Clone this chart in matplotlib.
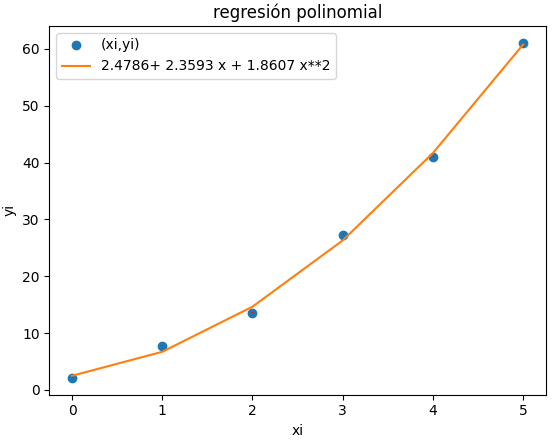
import numpy as np
import matplotlib
matplotlib.use("Agg")
import matplotlib.pyplot as plt

# ==== Datos ====
xi = [0, 1, 2, 3, 4, 5]
yi = [2.1, 7.7, 13.6, 27.2, 40.9, 61.1]

# valores del polinomio ajustado en cada xi
px = [2.4786, 6.6986, 14.6398, 26.3024, 41.6864, 60.7918]
etiqueta = '2.4786+ 2.3593 x + 1.8607 x**2'

# ==== Grafica ====
fig = plt.figure(figsize=(5.58, 4.40), dpi=100)
plt.subplots_adjust(left=0.0887, right=0.978, top=0.941, bottom=0.103)
plt.plot(xi, yi, 'o', label='(xi,yi)')
plt.plot(xi, px, label=etiqueta)
plt.plot(xi, yi, 'r,')  # punto rojo en el centro
plt.xlabel('xi')
plt.ylabel('yi')
plt.legend()
plt.title('regresión polinomial')
plt.savefig('out.png')
